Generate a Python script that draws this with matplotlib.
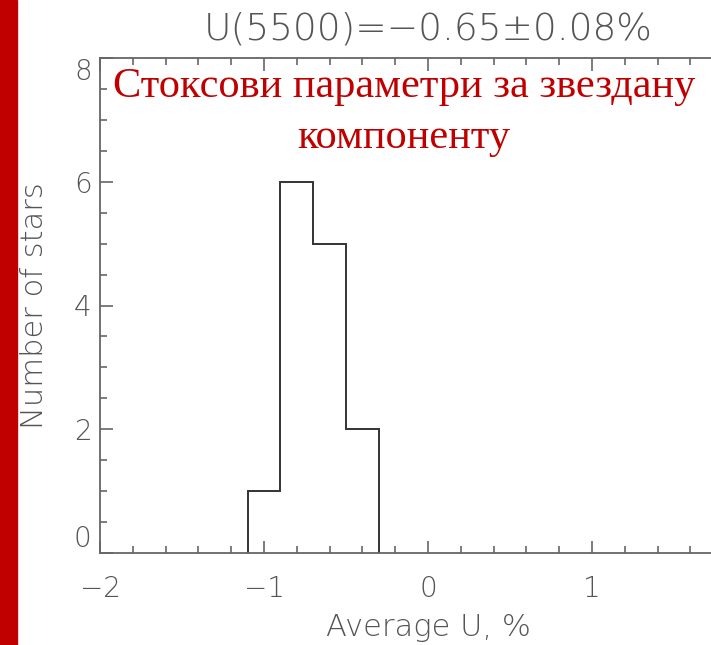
import matplotlib.pyplot as plt
from matplotlib.patches import Rectangle
from matplotlib.ticker import MultipleLocator

# histogram of average U per star
bin_edges = [-1.1, -0.9, -0.7, -0.5, -0.3]
star_counts = [1, 6, 5, 2]

title_text = "U(5500)=\u22120.65\u00b10.08%"
overlay_text = "Стоксови параметри за звездану\nкомпоненту"

grey = "#555555"
red = "#c00000"

plt.rcParams["font.family"] = "DejaVu Sans"
plt.rcParams["font.weight"] = "light"

fig = plt.figure(figsize=(7.11, 6.45), dpi=100)
W, H = 711, 645

# axes runs past the right edge of the figure
ax = fig.add_axes([100 / W, 1 - 553 / H, 656 / W, (553 - 58) / H])

ax.stairs(star_counts, bin_edges, color="#333333", linewidth=1.4)

ax.set_xlim(-2, 2)
ax.set_ylim(0, 8)
ax.xaxis.set_major_locator(MultipleLocator(1))
ax.xaxis.set_minor_locator(MultipleLocator(0.2))
ax.set_yticks([0, 2, 4, 6, 8])
ax.yaxis.set_minor_locator(MultipleLocator(0.5))

for side in ["left", "bottom", "top", "right"]:
    ax.spines[side].set_color("#666666")
    ax.spines[side].set_linewidth(1.3)

ax.tick_params(which="both", direction="in", top=True, right=False, color="#666666",
               labelcolor=grey, labelsize=20, width=1.2)
ax.tick_params(which="major", length=9)
ax.tick_params(which="minor", length=5)
ax.tick_params(axis="x", which="major", pad=16)
ax.tick_params(axis="y", which="major", pad=6)
ax.set_xticks([-2, -1, 0, 1])
ax.set_xticklabels(["\u22122", "\u22121", "0", "1"])

# keep the end labels inside the y range
ylabels = ax.get_yticklabels()
ylabels[0].set_va("bottom")
ylabels[-1].set_va("top")

ax.set_xlabel("Average U, %", color=grey, fontsize=22, fontweight="light")
ax.xaxis.set_label_coords(0.5, -0.122)
ax.set_ylabel("Number of stars", color=grey, fontsize=22, fontweight="light")
ax.yaxis.set_label_coords(-0.077, 0.5)
ax.set_title(title_text, color=grey, fontsize=27, pad=13, fontweight="light")

fig.text(404 / W, 1 - 68 / H, overlay_text, ha="center", va="top",
         color=red, fontsize=30.5, family="Liberation Serif",
         fontweight="normal", linespacing=1.42)

# red strip down the left side
fig.patches.append(Rectangle((0, 0), 17 / W, 1, transform=fig.transFigure,
                             color=red, zorder=10))

fig.savefig("out.png", dpi=100)
